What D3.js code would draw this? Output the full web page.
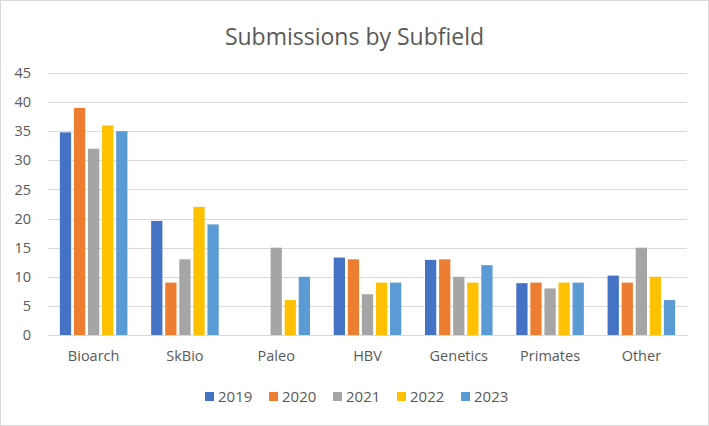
<!DOCTYPE html>
<html>
<head>
<meta charset="utf-8">
<script src="https://cdn.jsdelivr.net/npm/d3@7"></script>
<style>
  body { margin: 0; background: #fff; }
  text { font-family: "Open Sans", "Liberation Sans", sans-serif; fill: #595959; }
</style>
</head>
<body>
<div id="chart"></div>
<script>
// chart data
var categories = ["Bioarch", "SkBio", "Paleo", "HBV", "Genetics", "Primates", "Other"];
var years = ["2019", "2020", "2021", "2022", "2023"];
var values2019 = [34.8, 19.6, 0, 13.3, 12.9, 8.9, 10.2];
var values2020 = [39, 9, 0, 13, 13, 9, 9];
var values2021 = [32, 13, 15, 7, 10, 8, 15];
var values2022 = [36, 22, 6, 9, 9, 9, 10];
var values2023 = [35, 19, 10, 9, 12, 9, 6];
var yTicks = [0, 5, 10, 15, 20, 25, 30, 35, 40, 45];

var seriesValues = [values2019, values2020, values2021, values2022, values2023];
var colors = ["#4472C4", "#ED7D31", "#A5A5A5", "#FFC000", "#5B9BD5"];

var svgWidth = 709;
var svgHeight = 426;
var margin = { top: 73, right: 22, bottom: 91, left: 48 };
var width = svgWidth - margin.left - margin.right;
var height = svgHeight - margin.top - margin.bottom;

var svg = d3.select("#chart")
  .append("svg")
  .attr("width", svgWidth)
  .attr("height", svgHeight);

// outer border
svg.append("rect")
  .attr("x", 0.5).attr("y", 0.5)
  .attr("width", svgWidth - 1).attr("height", svgHeight - 1)
  .attr("fill", "#fff")
  .attr("stroke", "#d9d9d9");

svg.append("text")
  .attr("x", svgWidth / 2)
  .attr("y", 45)
  .attr("text-anchor", "middle")
  .attr("font-size", "23px")
  .text("Submissions by Subfield");

var chartGroup = svg.append("g")
  .attr("transform", `translate(${margin.left}, ${margin.top})`);

var x0 = d3.scaleBand()
  .domain(categories)
  .range([0, width])
  .paddingInner(0.26)
  .paddingOuter(0.13);

var x1 = d3.scaleBand()
  .domain(years)
  .range([0, x0.bandwidth()])
  .paddingInner(0.2);

var y = d3.scaleLinear()
  .domain([0, 45])
  .range([height, 0]);

// gridlines
chartGroup.append("g")
  .selectAll("line")
  .data(yTicks)
  .enter()
  .append("line")
  .attr("x1", 0)
  .attr("x2", width)
  .attr("y1", d => Math.round(y(d)) + 0.5)
  .attr("y2", d => Math.round(y(d)) + 0.5)
  .attr("stroke", "#d9d9d9")
  .attr("stroke-width", 1);

// y axis labels
var leftAxis = d3.axisLeft(y).tickValues(yTicks).tickSize(0).tickPadding(17);
var yAxis = chartGroup.append("g").call(leftAxis);
yAxis.select(".domain").remove();
yAxis.selectAll("text").attr("font-size", "14.5px").attr("fill", "#595959");

// bars
var groups = chartGroup.selectAll(".cat")
  .data(categories)
  .enter()
  .append("g")
  .attr("transform", d => `translate(${x0(d)},0)`);

groups.selectAll("rect")
  .data((d, i) => years.map((yr, j) => ({ year: yr, value: seriesValues[j][i], color: colors[j] })))
  .enter()
  .append("rect")
  .attr("x", d => x1(d.year))
  .attr("y", d => y(d.value))
  .attr("width", x1.bandwidth())
  .attr("height", d => height - y(d.value))
  .attr("fill", d => d.color);

// x axis
var bottomAxis = d3.axisBottom(x0).tickSize(0).tickPadding(16);
var xAxis = chartGroup.append("g")
  .attr("transform", `translate(0, ${height})`)
  .call(bottomAxis);
xAxis.select(".domain").attr("stroke", "#d9d9d9");
xAxis.selectAll("text").attr("font-size", "14.5px").attr("fill", "#595959");

// legend
var legend = svg.append("g")
  .attr("transform", "translate(205, 402)");

var items = legend.selectAll("g")
  .data(years)
  .enter()
  .append("g")
  .attr("transform", (d, i) => `translate(${i * 64}, 0)`);

items.append("rect")
  .attr("x", 0).attr("y", -10)
  .attr("width", 9).attr("height", 9)
  .attr("fill", (d, i) => colors[i]);

items.append("text")
  .attr("x", 13)
  .attr("y", 0)
  .attr("font-size", "15px")
  .text(d => d);
</script>
</body>
</html>
